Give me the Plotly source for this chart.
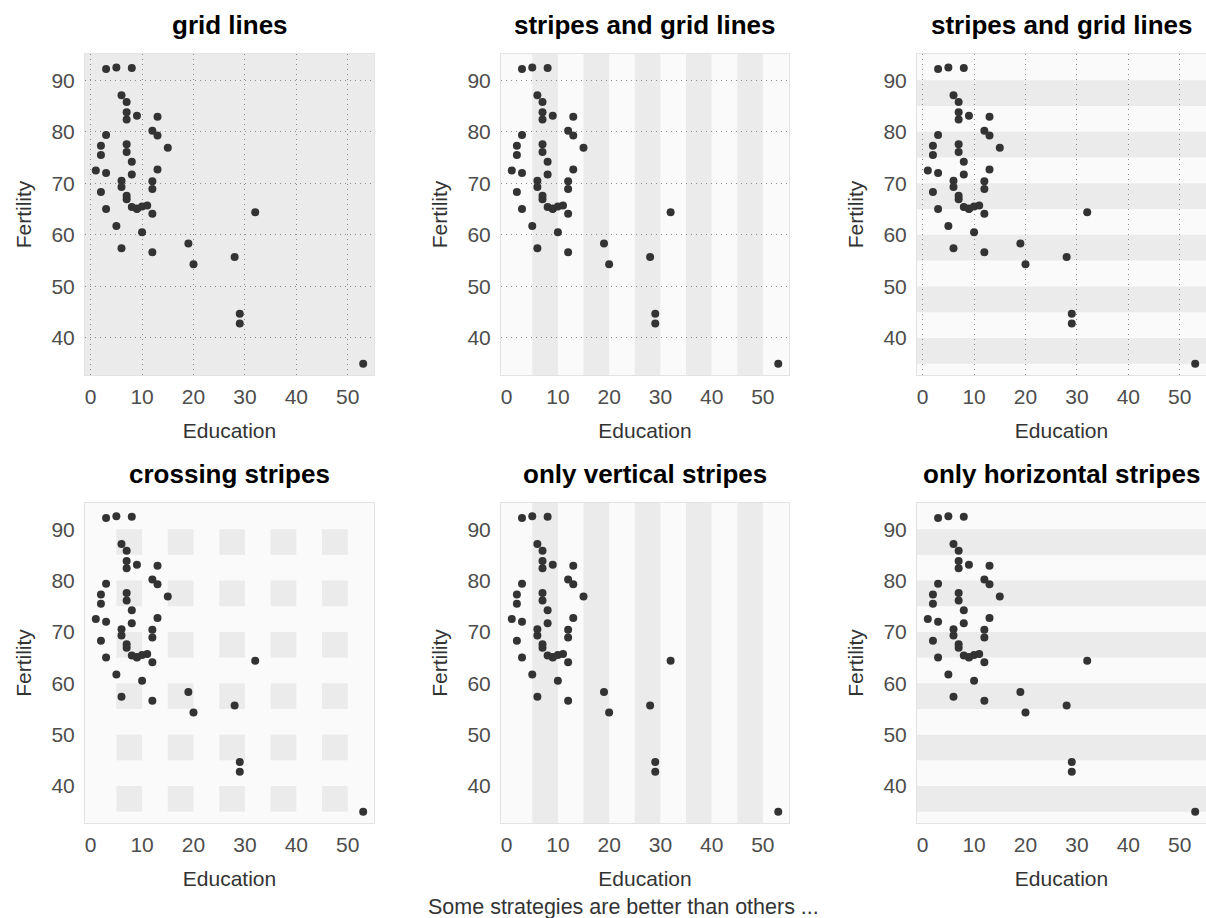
import plotly.graph_objects as go

# swiss data: Education (x) and Fertility (y)
education = [12, 9, 5, 7, 15, 7, 7, 8, 7, 13, 6, 12, 7, 12, 5, 2, 8, 28, 20, 9,
             10, 3, 12, 6, 1, 8, 3, 10, 19, 8, 2, 6, 2, 6, 3, 9, 3, 13, 12, 11,
             13, 32, 7, 7, 53, 29, 29]
fertility = [80.2, 83.1, 92.5, 85.8, 76.9, 76.1, 83.8, 92.4, 82.4, 82.9, 87.1,
             64.1, 66.9, 68.9, 61.7, 68.3, 71.7, 55.7, 54.3, 65.1, 65.5, 65.0,
             56.6, 57.4, 72.5, 74.2, 72.0, 60.5, 58.3, 65.4, 75.5, 69.3, 77.3,
             70.5, 79.4, 65.0, 92.2, 79.3, 70.4, 65.7, 72.7, 64.4, 77.6, 67.6,
             35.0, 44.7, 42.8]

titles = ["grid lines", "stripes and grid lines", "stripes and grid lines",
          "crossing stripes", "only vertical stripes", "only horizontal stripes"]
x_ticks = [0, 10, 20, 30, 40, 50]
y_ticks = [40, 50, 60, 70, 80, 90]
v_stripes = [(5, 10), (15, 20), (25, 30), (35, 40), (45, 50)]
h_stripes = [(35, 40), (45, 50), (55, 60), (65, 70), (75, 80), (85, 90)]
caption = "Some strategies are better than others ..."

W, H = 1206, 918
col_px = [(85, 374), (501, 789), (917, 1206)]
row_px = [(54, 375), (503, 823)]

XR = [-1.1, 55.1]
YR = [32.8, 95.1]

FONT = "Liberation Sans, Arial, sans-serif"
STRIPE = "#EBEBEB"
PANEL = "#FAFAFA"
GRID = "#8A8A8A"

fig = go.Figure()
shapes = []
annotations = []

# panel configuration: (bg, vstripes, hstripes, crossing, xgrid, ygrid)
config = [
    ("#EBEBEB", False, False, False, True, True),
    (PANEL, True, False, False, False, True),
    (PANEL, False, True, False, True, False),
    (PANEL, False, False, True, False, False),
    (PANEL, True, False, False, False, False),
    (PANEL, False, True, False, False, False),
]

for i in range(6):
    r, c = divmod(i, 3)
    n = "" if i == 0 else str(i + 1)
    xa, ya = "x" + n, "y" + n
    x0p, x1p = col_px[c]
    y0p, y1p = row_px[r]
    xdom = [x0p / W, x1p / W]
    ydom = [1 - y1p / H, 1 - y0p / H]
    bg, vs, hs, cross, xg, yg = config[i]

    fig.add_trace(go.Scatter(
        x=education, y=fertility, mode="markers",
        marker=dict(size=8, color="#333333"),
        xaxis=xa, yaxis=ya, showlegend=False, hoverinfo="skip"))

    axis_common = dict(
        showline=True, mirror=True, linecolor="#E3E3E3", linewidth=1,
        zeroline=False, ticks="", showticklabels=True,
        tickfont=dict(family=FONT, size=21, color="#4D4D4D"),
        griddash="1px,4px", gridcolor=GRID, gridwidth=1.2,
    )
    fig.update_layout(**{
        ("xaxis" + n): dict(axis_common, domain=xdom, range=XR, tickvals=x_ticks,
                            showgrid=xg, anchor=ya, ticklabelstandoff=3,
                            title=dict(text="Education", standoff=16,
                                       font=dict(family=FONT, size=21, color="#333333"))),
        ("yaxis" + n): dict(axis_common, domain=ydom, range=YR, tickvals=y_ticks,
                            showgrid=yg, anchor=xa, ticklabelstandoff=5,
                            title=dict(text="Fertility", standoff=14,
                                       font=dict(family=FONT, size=21, color="#333333"))),
    })

    # panel background
    shapes.append(dict(type="rect", xref=xa + " domain", yref=ya + " domain",
                       x0=0, x1=1, y0=0, y1=1, fillcolor=bg, line=dict(width=0),
                       layer="below"))
    if vs:
        for a, b in v_stripes:
            shapes.append(dict(type="rect", xref=xa, yref=ya + " domain",
                               x0=a, x1=b, y0=0, y1=1, fillcolor=STRIPE,
                               line=dict(width=0), layer="below"))
    if hs:
        for a, b in h_stripes:
            shapes.append(dict(type="rect", xref=xa + " domain", yref=ya,
                               x0=0, x1=1, y0=a, y1=b, fillcolor=STRIPE,
                               line=dict(width=0), layer="below"))
    if cross:
        for a, b in v_stripes:
            for c0, c1 in h_stripes:
                shapes.append(dict(type="rect", xref=xa, yref=ya,
                                   x0=a, x1=b, y0=c0, y1=c1, fillcolor=STRIPE,
                                   line=dict(width=0), layer="below"))

    annotations.append(dict(
        text="<b>%s</b>" % titles[i], xref="paper", yref="paper",
        x=(xdom[0] + xdom[1]) / 2, y=ydom[1] + 29 / H, xanchor="center",
        yanchor="middle", showarrow=False,
        font=dict(family=FONT, size=26, color="#000000")))

annotations.append(dict(
    text=caption, xref="paper", yref="paper", x=623 / W, y=1 - 907 / H,
    xanchor="center", yanchor="middle", showarrow=False,
    font=dict(family=FONT, size=21.5, color="#333333")))

fig.update_layout(
    width=W, height=H, margin=dict(l=0, r=0, t=0, b=0),
    paper_bgcolor="white", plot_bgcolor="rgba(0,0,0,0)",
    shapes=shapes, annotations=annotations,
    font=dict(family=FONT),
)

fig.write_html("out.html")
